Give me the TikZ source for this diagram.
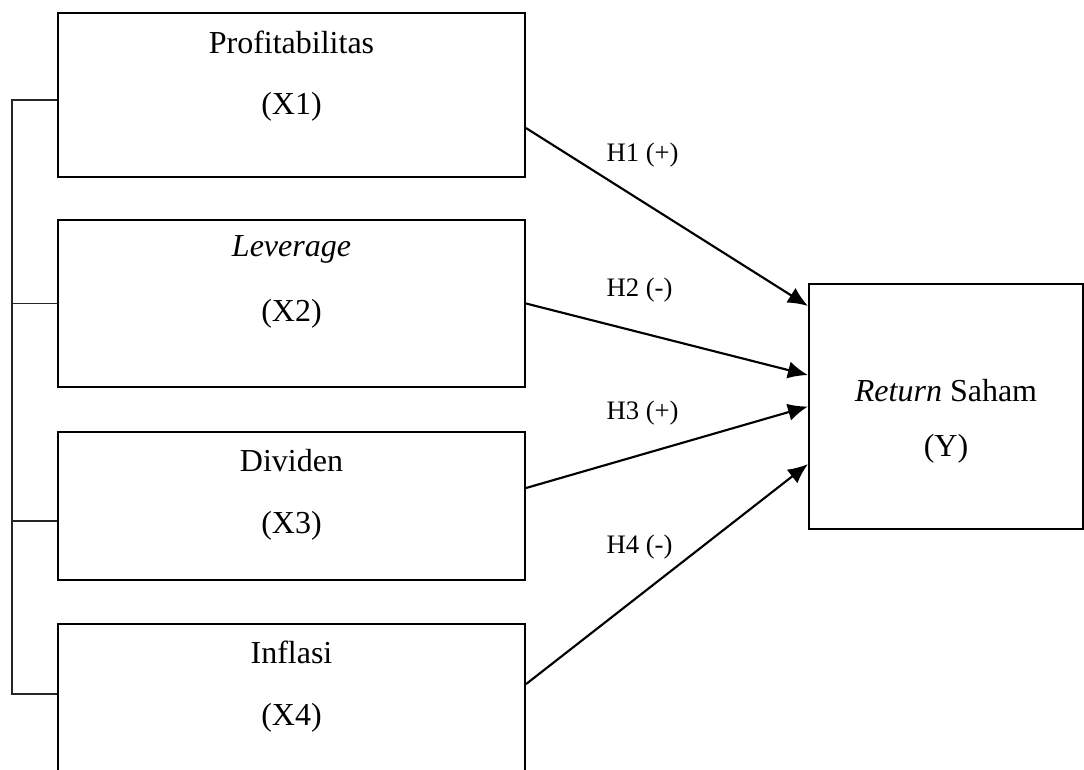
\documentclass[tikz,border=0pt]{standalone}
\usepackage{fontspec}
\setmainfont{Liberation Serif}
\usetikzlibrary{arrows.meta,positioning}

\begin{document}
\begin{tikzpicture}[x=0.375pt,y=-0.375pt,
  var/.style={draw,line width=0.8pt,minimum width=175.1pt,inner sep=0pt},
  dep/.style={draw,line width=0.8pt,minimum width=102.75pt,minimum height=91.9pt,inner sep=0pt},
  txt/.style={font=\fontsize{12}{14}\selectfont,inner sep=0pt},
  lbl/.style={font=\fontsize{10}{12}\selectfont,anchor=west,inner sep=0pt},
  hyp/.style={-{Latex[length=7.5pt,width=6.5pt]},line width=0.8pt},
  brk/.style={line width=0.5pt,black!85}]
\useasboundingbox (0,0) rectangle (1084,769);
% independent variables
\node[var,minimum height=61.5pt] (x1) at (291.5,95) {};
\node[var,minimum height=62.6pt] (x2) at (291.5,303.5) {};
\node[var,minimum height=55.5pt] (x3) at (291.5,506) {};
\node[var,minimum height=62.3pt] (x4) at (291.5,707) {};
\node[txt] (x1a) at ([yshift=-11.25pt]x1.north) {Profitabilitas};
\node[txt] (x1b) at ([yshift=-35.6pt]x1.north) {(X1)};
\node[txt] (x2a) at ([yshift=-11.25pt]x2.north) {\textit{Leverage}};
\node[txt] (x2b) at ([yshift=-35.6pt]x2.north) {(X2)};
\node[txt] (x3a) at ([yshift=-11.25pt]x3.north) {Dividen};
\node[txt] (x3b) at ([yshift=-35.6pt]x3.north) {(X3)};
\node[txt] (x4a) at ([yshift=-11.25pt]x4.north) {Inflasi};
\node[txt] (x4b) at ([yshift=-35.6pt]x4.north) {(X4)};
% dependent variable
\node[dep] (y) at (946,406.5) {};
\node[txt] (ya) at ([yshift=-40.5pt]y.north) {\textit{Return} Saham};
\node[txt] (yb) at ([yshift=-62.25pt]y.north) {(Y)};
% bracket on the left
\draw[brk] ([yshift=-1.9pt]x1.west) -- ++(-45,0) |- ([yshift=4.9pt]x4.west);
\draw[brk] (x2.west) -- ++(-45,0);
\draw[brk] ([yshift=-5.6pt]x3.west) -- ++(-45,0);
% hypotheses
\draw[hyp] ([yshift=-12.4pt]x1.east) -- ([yshift=37.7pt]y.west);
\draw[hyp] (x2.east) -- ([yshift=11.8pt]y.west);
\draw[hyp] ([yshift=6.75pt]x3.east) -- (y.west);
\draw[hyp] ([yshift=8.6pt]x4.east) -- ([yshift=-21.6pt]y.west);
\node[lbl] (h1) at (606,155) {H1 (+)};
\node[lbl] (h2) at (606,290) {H2 (-)};
\node[lbl] (h3) at (606,413) {H3 (+)};
\node[lbl] (h4) at (606,547) {H4 (-)};
\end{tikzpicture}
\end{document}
